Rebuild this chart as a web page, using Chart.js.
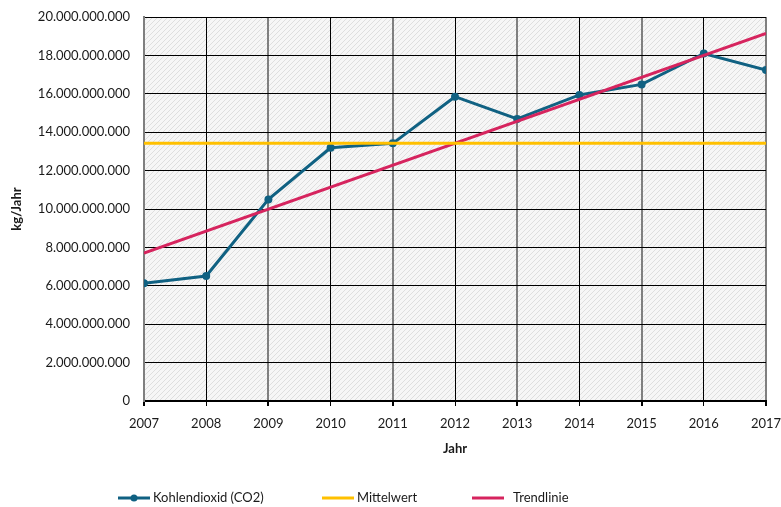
<!DOCTYPE html>
<html>
<head>
<meta charset="utf-8">
<script src="https://cdn.jsdelivr.net/npm/chart.js@4/dist/chart.umd.min.js"></script>
<style>
  html, body { margin: 0; padding: 0; background: #fff; }
  #wrap { width: 781px; height: 507px; }
</style>
</head>
<body>
<div id="wrap"><canvas id="co2Chart" width="781" height="507"></canvas></div>
<script>
const years = [2007, 2008, 2009, 2010, 2011, 2012, 2013, 2014, 2015, 2016, 2017];
const co2Values = [6.13e9, 6.51e9, 10.5e9, 13.19e9, 13.42e9, 15.85e9, 14.69e9, 15.94e9, 16.49e9, 18.1e9, 17.24e9];
const meanValue = 13.42e9;
const trendYears = [2007, 2017];
const trendValues = [7.7e9, 19.15e9];
const legendLabels = ['Kohlendioxid (CO2)', 'Mittelwert', 'Trendlinie'];

const colors = {
  co2: '#106182',
  mean: '#FFC000',
  trend: '#D6245E'
};

const fontFamily = 'Lato, "Liberation Sans", sans-serif';

// german thousands separator
function deNumber(v) {
  return String(Math.round(v)).replace(/\B(?=(\d{3})+(?!\d))/g, '.');
}

// light diagonal hatch for the plot background
function makeHatch() {
  const c = document.createElement('canvas');
  c.width = 5; c.height = 5;
  const g = c.getContext('2d');
  g.fillStyle = '#f6f6f6';
  g.fillRect(0, 0, 5, 5);
  g.strokeStyle = '#dedede';
  g.lineWidth = 1;
  g.beginPath();
  g.moveTo(-1, 6); g.lineTo(6, -1);
  g.moveTo(-1, 1); g.lineTo(1, -1);
  g.moveTo(4, 6); g.lineTo(6, 4);
  g.stroke();
  return c;
}

const hatchBackground = {
  id: 'hatchBackground',
  beforeDraw(chart) {
    const {ctx, chartArea: a} = chart;
    ctx.save();
    ctx.fillStyle = ctx.createPattern(makeHatch(), 'repeat');
    ctx.fillRect(a.left, a.top, a.right - a.left, a.bottom - a.top);
    ctx.restore();
  }
};

// legend drawn under the axis title
const bottomLegend = {
  id: 'bottomLegend',
  afterDraw(chart) {
    const ctx = chart.ctx;
    const y = 498;
    const items = [
      {x: 118, text: legendLabels[0], color: colors.co2, dot: true, gap: 3},
      {x: 322, text: legendLabels[1], color: colors.mean, dot: false, gap: 3},
      {x: 472, text: legendLabels[2], color: colors.trend, dot: false, gap: 9}
    ];
    ctx.save();
    ctx.font = '13px ' + fontFamily;
    ctx.textBaseline = 'middle';
    ctx.fillStyle = '#1a1a1a';
    items.forEach(it => {
      ctx.strokeStyle = it.color;
      ctx.lineWidth = 3;
      ctx.beginPath();
      ctx.moveTo(it.x, y);
      ctx.lineTo(it.x + 32, y);
      ctx.stroke();
      if (it.dot) {
        ctx.fillStyle = it.color;
        ctx.beginPath();
        ctx.arc(it.x + 16, y, 3.5, 0, Math.PI * 2);
        ctx.fill();
        ctx.fillStyle = '#1a1a1a';
      }
      ctx.fillText(it.text, it.x + 32 + it.gap, y);
    });
    ctx.restore();
  }
};

const ctx = document.getElementById('co2Chart').getContext('2d');

new Chart(ctx, {
  type: 'line',
  data: {
    datasets: [{
      label: legendLabels[1],
      data: [{x: years[0], y: meanValue}, {x: years[years.length - 1], y: meanValue}],
      borderColor: colors.mean,
      borderWidth: 3,
      pointRadius: 0
    }, {
      label: legendLabels[2],
      data: trendYears.map((yr, i) => ({x: yr, y: trendValues[i]})),
      borderColor: colors.trend,
      borderWidth: 3,
      pointRadius: 0
    }, {
      label: legendLabels[0],
      data: years.map((yr, i) => ({x: yr, y: co2Values[i]})),
      borderColor: colors.co2,
      backgroundColor: colors.co2,
      borderWidth: 3,
      pointRadius: 4,
      pointBorderWidth: 0,
      tension: 0
    }]
  },
  options: {
    responsive: false,
    animation: false,
    layout: {
      padding: {top: 17, right: 15, bottom: 46, left: 0}
    },
    plugins: {
      legend: { display: false },
      tooltip: { enabled: false }
    },
    scales: {
      x: {
        type: 'linear',
        min: 2007,
        max: 2017,
        afterFit: scale => {
          scale.height = 60;
          scale.paddingLeft = 0;
          scale.paddingRight = 0;
        },
        ticks: {
          stepSize: 1,
          color: '#1a1a1a',
          padding: 10,
          font: { family: fontFamily, size: 13 },
          callback: v => String(v)
        },
        grid: {
          color: c => (c.index % 2 === 0 ? '#7f7f7f' : '#000000'),
          lineWidth: c => (c.index % 2 === 0 ? 2 : 1),
          drawTicks: true,
          tickLength: 5,
          tickColor: '#000'
        },
        border: { color: '#000', width: 2 },
        title: {
          display: true,
          text: 'Jahr',
          color: '#1a1a1a',
          font: { family: fontFamily, size: 13, weight: 'bold' },
          padding: { top: 4, bottom: 4 }
        }
      },
      y: {
        min: 0,
        max: 20e9,
        afterFit: scale => {
          scale.width = 144;
          scale.paddingTop = 0;
          scale.paddingBottom = 0;
        },
        ticks: {
          stepSize: 2e9,
          color: '#1a1a1a',
          padding: 14,
          font: { family: fontFamily, size: 13 },
          callback: v => deNumber(v)
        },
        grid: {
          color: '#000',
          lineWidth: 1,
          drawTicks: false
        },
        border: { color: '#7f7f7f', width: 2 },
        title: {
          display: true,
          text: 'kg/Jahr',
          color: '#1a1a1a',
          font: { family: fontFamily, size: 13, weight: 'bold' },
          padding: { top: 9, bottom: 0 }
        }
      }
    }
  },
  plugins: [hatchBackground, bottomLegend]
});
</script>
</body>
</html>
